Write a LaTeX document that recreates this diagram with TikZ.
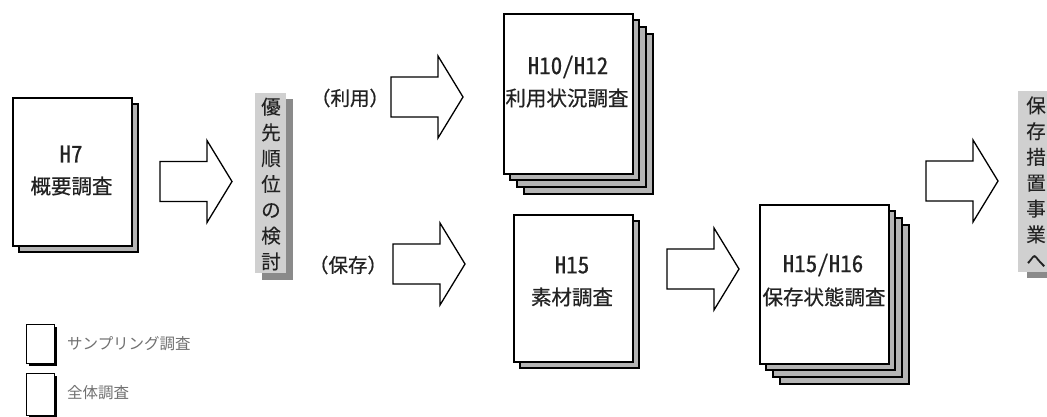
\documentclass[tikz,border=0pt]{standalone}
\usepackage{fontspec}
\newfontfamily\jp[FakeBold=0.6]{Noto Sans CJK JP}
\newfontfamily\jplat[RawFeature=+hwid,FakeBold=0.6]{Noto Sans CJK JP}
\newfontfamily\jpleg{Noto Sans CJK JP}
\definecolor{sheetgray}{HTML}{B4B4B4}
\definecolor{labgray}{HTML}{D0D0D0}
\definecolor{labshadow}{HTML}{8A8A8A}
\definecolor{txt}{HTML}{222222}
\definecolor{legtxt}{HTML}{707070}
\newcommand\halostart{\special{pdf:literal direct 1 Tr 3 w 1 j 1 1 1 RG}}
\newcommand\haloend{\special{pdf:literal direct 0 Tr}}
\tikzset{
  front/.style={draw=black, line width=1.8pt, fill=white},
  sheet/.style={draw=black, line width=1.6pt, fill=sheetgray},
  blockarrow/.style={draw=black, line width=1.3pt, fill=white, line join=miter},
  latintext/.style={font=\jplat\fontsize{23}{23}\selectfont, text=txt, inner sep=0pt},
  cjktext/.style={font=\jp\fontsize{20.5}{23}\selectfont, text=txt, inner sep=0pt},
  vtext/.style={font=\jp\fontsize{19.5}{25.8}\selectfont, align=center, inner sep=0pt},
  labbox/.style={fill=labgray, draw=none},
  labshad/.style={fill=labshadow, draw=none},
  legbox/.style={draw=black, line width=1.3pt, fill=white},
  legshad/.style={fill=black, draw=none},
  legtext/.style={font=\jpleg\fontsize{15.5}{18}\selectfont, text=legtxt, anchor=west, inner sep=0pt},
  barrow/.pic={
    \draw[blockarrow] (0,-20) -- (47,-20) -- (47,-41) -- (72,0) -- (47,41) -- (47,20) -- (0,20) -- cycle;
  }
}
\begin{document}
\begin{tikzpicture}[x=1pt,y=-1pt]
\useasboundingbox (0,0) rectangle (1047,416);

% ---------- H7 ----------
\draw[sheet] (19,104) rectangle (138,252);
\node[front, minimum width=119pt, minimum height=148pt, inner sep=0pt, anchor=north west] (h7) at (12,97) {};
\node[latintext] (h7a) at (71,154) {H7};
\node[cjktext] (h7b) at (71.5,186) {概要調査};

% ---------- arrow 1 ----------
\pic at (160,181.5) {barrow};

% ---------- label 1 ----------
\fill[labshad] (262,99) rectangle (293,280);
\node[labbox, minimum width=31pt, minimum height=180pt, anchor=north west, inner sep=0pt] (lab1) at (255,93) {};
\node[vtext, text=white] (lab1h) at (271,184) {\halostart 優\\先\\順\\位\\の\\検\\討\haloend};
\node[vtext, text=txt] (lab1t) at (271,184) {優\\先\\順\\位\\の\\検\\討};

% ---------- branch labels ----------
\node[cjktext, font=\jp\fontsize{19.5}{22}\selectfont] (riyo) at (350,98) {（利用）};
\node[cjktext, font=\jp\fontsize{19.5}{22}\selectfont] (hozon) at (348,265) {（保存）};

% ---------- arrows 2, 3 ----------
\pic at (391,97) {barrow};
\pic at (393,264) {barrow};

% ---------- H10/H12 stack ----------
\foreach \o in {21,14,7}
  \draw[sheet] (503+\o,13+\o) rectangle (632+\o,173+\o);
\node[front, minimum width=129pt, minimum height=160pt, inner sep=0pt, anchor=north west] (h10) at (503,13) {};
\node[latintext] (h10a) at (568,67) {H10/H12};
\node[cjktext] (h10b) at (567,98) {利用状況調査};

% ---------- H15 ----------
\draw[sheet] (520,221) rectangle (639,368);
\node[front, minimum width=119pt, minimum height=147pt, inner sep=0pt, anchor=north west] (h15) at (513,214) {};
\node[latintext] (h15a) at (572,265) {H15};
\node[cjktext] (h15b) at (572,297) {素材調査};

% ---------- arrow 4 ----------
\pic at (667,269) {barrow};

% ---------- H15/H16 stack ----------
\foreach \o in {21,14,7}
  \draw[sheet] (759+\o,204+\o) rectangle (888+\o,363+\o);
\node[front, minimum width=129pt, minimum height=159pt, inner sep=0pt, anchor=north west] (h16) at (759,204) {};
\node[latintext] (h16a) at (823,265) {H15/H16};
\node[cjktext] (h16b) at (824,297) {保存状態調査};

% ---------- arrow 5 ----------
\pic at (926,181) {barrow};

% ---------- label 2 ----------
\fill[labshad] (1027,97) rectangle (1060,278);
\node[labbox, minimum width=42pt, minimum height=181pt, anchor=north west, inner sep=0pt] (lab2) at (1018,91) {};
\node[vtext, text=white] (lab2h) at (1036,182) {\halostart 保\\存\\措\\置\\事\\業\\へ\haloend};
\node[vtext, text=txt] (lab2t) at (1036,182) {保\\存\\措\\置\\事\\業\\へ};

% ---------- legend ----------
\fill[legshad] (29,327) rectangle (57,366);
\node[legbox, minimum width=28pt, minimum height=39pt, inner sep=0pt, anchor=north west] (leg1) at (26,324) {};
\node[legtext] (leg1t) at (67,344) {サンプリング調査};
\fill[legshad] (29,376) rectangle (57,420);
\node[legbox, minimum width=28pt, minimum height=42pt, inner sep=0pt, anchor=north west] (leg2) at (26,373) {};
\node[legtext] (leg2t) at (67,393) {全体調査};
\end{tikzpicture}
\end{document}
